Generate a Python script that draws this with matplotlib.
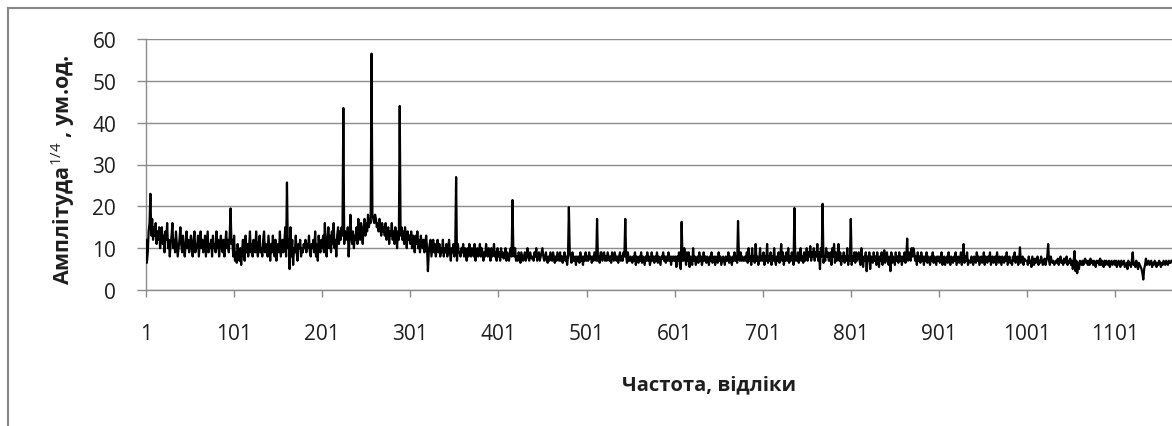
import numpy as np
import matplotlib
matplotlib.use("Agg")
import matplotlib.pyplot as plt
from matplotlib.lines import Line2D

plt.rcParams["font.family"] = ["Open Sans", "DejaVu Sans"]
plt.rcParams["mathtext.fontset"] = "custom"
plt.rcParams["mathtext.rm"] = "Open Sans"

# амплітуда по відліках, читано з графіка (по 100 відліків)
amp_0001 = [12, 6.5, 9, 14, 16, 23, 13, 17, 12, 15,
            13, 16, 11, 14, 12, 15, 10, 13, 15, 11,
            13, 9, 14, 12, 16, 10, 12, 8, 11, 13,
            16, 10, 12, 9, 14, 11, 8, 10, 12, 15,
            11, 9, 13, 10, 8, 11, 14, 10, 12, 9,
            11, 13, 10, 8, 12, 14, 9, 11, 10, 13,
            8, 11, 14, 10, 12, 9, 10, 13, 8, 11,
            14, 9, 11, 10, 12, 8, 13, 10, 11, 9,
            14, 10, 12, 8, 11, 13, 10, 9, 12, 8,
            11, 14, 10, 12, 9, 13, 19.5, 11, 12, 8]
amp_0101 = [13, 7, 9, 6.5, 11, 8, 7, 10, 6, 9,
            12, 8, 7, 13, 9, 11, 8, 10, 14, 9,
            11, 8, 12, 10, 9, 14, 10, 8, 11, 13,
            9, 10, 8, 12, 14, 9, 11, 10, 8, 13,
            10, 7, 11, 9, 13, 10, 8, 12, 7, 10,
            11, 9, 14, 8, 10, 12, 9, 11, 15, 8,
            25.7, 10, 12, 5, 15, 8, 12, 6, 10, 9,
            13, 9, 7, 11, 10, 12, 8, 10, 9, 11,
            10, 12, 9, 11, 10, 13, 9, 8, 11, 10,
            12, 9, 14, 8, 11, 7, 13, 10, 9, 12]
amp_0201 = [10, 13, 9, 16, 11, 8, 12, 15, 10, 13,
            9, 14, 11, 16, 10, 12, 8, 13, 15, 11,
            14, 12, 15, 13, 43.5, 11, 14, 13, 12, 15,
            8, 12, 18, 13, 11, 14, 10, 13, 12, 15,
            11, 17, 13, 12, 16, 14, 11, 15, 17, 13,
            16, 14, 18, 15, 17, 16, 56.5, 18, 17, 16,
            18, 17, 15, 16, 14, 17, 15, 13, 16, 14,
            15, 13, 16, 12, 14, 15, 11, 14, 13, 16,
            12, 14, 11, 15, 13, 10, 14, 12, 44, 13,
            15, 12, 14, 11, 15, 13, 10, 14, 12, 13]
amp_0301 = [11, 14, 10, 13, 12, 9, 13, 11, 14, 10,
            12, 9, 13, 11, 10, 12, 9, 11, 13, 10,
            4.5, 9, 11, 12, 8, 10, 12, 9, 11, 8,
            10, 12, 9, 11, 8, 10, 9, 12, 8, 10,
            9, 11, 8, 10, 12, 9, 7, 10, 9, 11,
            8, 10, 27, 7, 11, 9, 9, 8, 10, 9,
            11, 8, 10, 9, 7, 10, 8, 11, 9, 8,
            10, 9, 8, 11, 7, 9, 10, 8, 9, 11,
            8, 10, 9, 7, 9, 8, 11, 9, 8, 10,
            9, 7, 10, 8, 9, 11, 8, 9, 7, 10]
amp_0401 = [8, 9, 7, 10, 8, 9, 7.5, 8, 10, 7,
            9, 8, 7, 9, 10, 8, 21.5, 9, 8, 10,
            7, 8, 7, 9, 8, 6.5, 9, 8, 7, 8,
            9, 7, 8, 10, 8, 7, 9, 8, 7.5, 8,
            7, 9, 8, 10, 7, 8, 9, 7, 8, 9,
            10, 8, 7, 8, 9, 7, 6.5, 8, 7, 9,
            8, 7, 9, 8, 6.5, 8, 7, 9, 8, 7,
            9, 7, 8, 6.5, 8, 9, 7, 8, 6, 8,
            19.8, 9, 8, 6.5, 9, 7, 7, 8, 6, 8,
            7, 8, 6.5, 9, 7, 8, 6, 8, 7, 9]
amp_0501 = [7, 8, 7, 9, 7.5, 8, 6.5, 8, 7, 9,
            8, 7, 17, 7, 8, 6.5, 9, 9, 7, 8,
            9, 7, 8, 7, 9, 8, 7, 8, 6.5, 9,
            8, 7, 9, 8, 7, 8, 6.5, 8, 9, 7,
            8, 7, 9, 8, 17, 8, 6.5, 9, 7, 7,
            8, 7, 6.5, 8, 7, 9, 6, 8, 7, 6.5,
            8, 7, 9, 6.5, 8, 7, 6, 8, 7, 9,
            7, 8, 6, 7, 9, 7, 8, 6.5, 8, 7,
            9, 6.5, 8, 7, 6, 8, 7.5, 9, 7, 8,
            6.5, 8, 7, 9, 7, 8, 6, 8, 7, 8]
amp_0601 = [7, 8, 5.5, 8, 7, 9, 6, 5, 16.3, 7,
            7, 10, 8, 6, 9, 7, 9, 5.5, 8, 7,
            6, 10, 7, 8, 6, 7, 8, 6.5, 9, 7,
            8, 6, 7, 9, 7, 8, 6.5, 8, 7, 6,
            8, 7, 9, 6.5, 7, 8, 6, 8, 7, 6.5,
            9, 7, 8, 6, 7, 8, 7, 6, 8, 7,
            7, 9, 6.5, 8, 7, 6, 8, 7, 9, 7,
            8, 6.5, 16.5, 8, 7, 9, 7, 8, 7, 7,
            8, 7, 9, 6.5, 10, 7, 8, 6, 10, 7,
            8, 6.5, 11, 7, 8, 6, 7, 10, 7, 8]
amp_0701 = [7, 9, 6, 8, 7, 11, 6.5, 8, 7, 9,
            6, 8, 7, 10, 7, 6, 8, 7, 9, 6.5,
            8, 11, 7, 9, 6, 8, 7, 9, 7, 10,
            6.5, 8, 7, 9, 8, 6, 19.6, 7, 8, 7,
            9, 6.5, 8, 10, 7, 8, 6.5, 9, 7, 8,
            10, 7, 9, 8, 10.5, 7, 9, 8, 10, 7,
            9, 8, 11, 7, 9, 5, 10, 8, 20.6, 6.5,
            8, 7, 10, 8, 9, 7, 7, 9, 6, 10,
            8, 11, 6.5, 9, 7, 8, 11, 7, 9, 6,
            8, 7, 9, 6.5, 8, 7, 10, 6, 8, 7]
amp_0801 = [17, 6, 8, 7, 9, 6.5, 9, 7, 8, 9,
            7, 6, 10, 7, 5.5, 8, 7, 9, 4.5, 8,
            7, 9, 5, 8, 7, 6.5, 9, 7, 8, 6,
            9, 7, 5.5, 8, 7, 9, 6, 8, 9.5, 6.5,
            8, 9, 7, 6, 8, 4.5, 9, 6.5, 8, 7,
            6, 9, 7, 8, 6.5, 9, 7, 8, 6, 8,
            7, 9, 6.5, 8, 12.3, 7, 8, 9, 7, 10,
            8, 10, 9, 7, 8, 6, 9, 7, 8, 6.5,
            9, 7, 8, 6, 8, 7, 9, 6.5, 8, 7,
            6, 8, 7, 9, 6.5, 8, 7, 6, 8, 7]
amp_0901 = [8, 6.5, 7, 9, 6, 7.5, 8, 6, 7, 8,
            6.5, 9, 7, 6, 8, 7, 6.5, 8, 7, 9,
            6, 7, 8, 6.5, 7, 9, 6, 8, 11, 6.5,
            8, 7, 9, 6, 7, 7, 6.5, 8, 7, 6,
            8, 7, 6.5, 9, 7, 8, 6, 7, 8, 6.5,
            7, 9, 6, 8, 7, 6.5, 8, 7, 9, 6,
            7, 8, 6.5, 7, 8, 6, 9, 7, 6.5, 8,
            7, 6, 8, 7, 6.5, 8, 7, 9, 6, 7,
            8, 6.5, 7, 6, 8, 7, 9, 6.5, 7, 8,
            6, 7, 10.2, 6.5, 7, 8, 6, 7.5, 7, 7]
amp_1001 = [7, 6, 8, 6.5, 7, 5.5, 8, 7, 6, 7.5,
            6.5, 7, 8, 6, 7, 6.5, 8, 7, 6, 7,
            7.5, 6, 7, 8, 11, 7, 6, 8, 7, 6.5,
            7, 6, 6.5, 7, 6.5, 7.5, 6, 7, 8, 6.5,
            7, 6, 7.5, 6.5, 7, 8, 6, 7, 6.5, 7.5,
            6, 7, 5, 7, 9.3, 4.5, 7, 4, 6.5, 5,
            7, 6.5, 6, 7, 6, 7, 7.5, 6.5, 7, 6,
            7, 6, 7.5, 6.5, 7, 6, 7, 6.5, 5.5, 7,
            6.5, 7, 6, 7.5, 6, 7, 6.5, 5.5, 7, 6,
            7, 6.5, 6, 7, 5.5, 6.5, 7, 6, 6.5, 7]
amp_1101 = [6, 7, 5.5, 6.5, 7, 6, 5.5, 7, 6, 6.5,
            7, 5.5, 6, 6.5, 5, 7, 6, 6.5, 5.5, 7,
            9, 6, 6.5, 5.5, 7, 6, 5, 6.5, 6, 5.5,
            5, 4, 2.5, 5, 6, 7.5, 6, 6.5, 7, 6,
            6.5, 7, 5.5, 6.5, 6, 7, 6.5, 5.5, 6.5, 6,
            7, 6.5, 5.5, 6.5, 6, 7, 6.5, 6, 7, 6.5,
            6, 7, 6.5, 6.5, 7]

amp = np.concatenate([amp_0001, amp_0101, amp_0201, amp_0301, amp_0401, amp_0501,
                      amp_0601, amp_0701, amp_0801, amp_0901, amp_1001, amp_1101])
n = np.arange(1, len(amp) + 1)

xticks = np.arange(1, 1102, 100)
yticks = [0, 10, 20, 30, 40, 50, 60]

W, H = 1172, 427
fig = plt.figure(figsize=(W / 100, H / 100), dpi=100)
ax = fig.add_axes([146 / W, (H - 291) / H, (W - 146) / W, (291 - 40) / H])

grey = "#8c8c8c"
txt = "#1e1e1e"
ax.plot(n, amp, color="black", lw=1.6, zorder=3)
ax.set_xlim(1, 1 + (W - 146) / 0.881)
ax.set_ylim(0, 60)
ax.set_yticks(yticks)
ax.set_xticks(xticks)
ax.set_xticklabels([str(t) for t in xticks])
ax.yaxis.grid(True, color=grey, lw=1.0)
ax.set_axisbelow(True)
for s in ["top", "right"]:
    ax.spines[s].set_visible(False)
for s in ["left", "bottom"]:
    ax.spines[s].set_color(grey)
    ax.spines[s].set_linewidth(1.0)
ax.tick_params(axis="y", direction="out", length=6.5, width=1, color=grey,
               labelsize=15, labelcolor=txt, pad=15)
ax.tick_params(axis="x", direction="out", length=5, width=1, color=grey,
               labelsize=15, labelcolor=txt, pad=19)

fig.text(63 / W, 1 - 170 / H, r"Амплітуда$^{1/4}$ , ум.од.", rotation=90,
         ha="center", va="center", fontsize=15.5, fontweight="bold", color=txt)
fig.text(709 / W, 1 - 385 / H, "Частота, відліки", ha="center", va="center",
         fontsize=14.5, fontweight="bold", color=txt)

# рамка області діаграми
fig.add_artist(Line2D([8 / W, 8 / W], [0, 1 - 9 / H], color="#868686", lw=1.5,
                      transform=fig.transFigure))
fig.add_artist(Line2D([8 / W, 1], [1 - 9 / H, 1 - 9 / H], color="#868686", lw=1.5,
                      transform=fig.transFigure))

fig.savefig("out.png", dpi=100)
